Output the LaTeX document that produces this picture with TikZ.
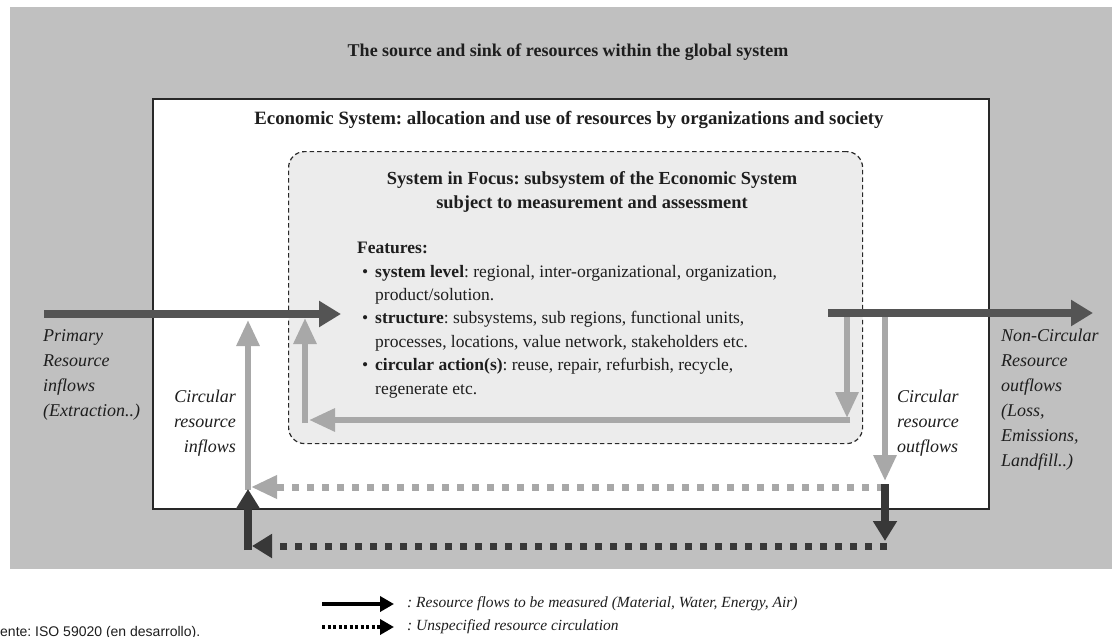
\documentclass[tikz,border=0pt]{standalone}
\usepackage{fontspec}
\setmainfont{Liberation Serif}
\setsansfont{Liberation Sans}
\usetikzlibrary{arrows.meta}
\frenchspacing
\definecolor{bggray}{RGB}{192,192,192}
\definecolor{focusfill}{RGB}{236,236,236}
\definecolor{darkflow}{RGB}{84,84,84}
\definecolor{lightflow}{RGB}{168,168,168}
\definecolor{loopdark}{RGB}{56,56,56}
\definecolor{edgecol}{RGB}{40,40,40}
\definecolor{txt}{RGB}{30,30,30}
\begin{document}
\frenchspacing
\begin{tikzpicture}[x=1pt,y=-1pt,
  flowdark/.style={draw=darkflow, line width=8pt, -{Triangle[length=22pt,width=25pt]}},
  flowlight/.style={draw=lightflow, line width=6pt, -{Triangle[length=26pt,width=22pt]}},
  flowloop/.style={draw=loopdark, line width=8pt, -{Triangle[length=20pt,width=23pt]}},
  dashlight/.style={flowlight, line width=7pt, dash pattern=on 7pt off 8pt},
  dashloop/.style={flowloop, line width=7pt, dash pattern=on 7pt off 8pt},
  ttl/.style={font=\fontsize{18}{24}\selectfont\bfseries, text=txt, inner sep=0, align=center},
  lbl/.style={font=\fontsize{18}{25}\selectfont\itshape, text=txt, inner sep=0},
  body/.style={font=\fontsize{17.5}{23.4}\selectfont, text=txt, inner sep=0, align=left},
  legtxt/.style={font=\fontsize{15.5}{18}\selectfont\itshape, text=txt, inner sep=0, anchor=west},
  legsolid/.style={draw=black, line width=4pt, -{Triangle[length=14pt,width=15pt]}},
  legdot/.style={legsolid, dash pattern=on 3pt off 2.5pt}
]
\useasboundingbox (0,0) rectangle (1119,637);
\fill[white] (0,0) rectangle (1119,637);

% boxes
\node[fill=bggray, minimum width=1102pt, minimum height=562pt, anchor=north west, inner sep=0] (global) at (10,7) {};
\node[fill=white, draw=edgecol, line width=1.5pt, minimum width=836pt, minimum height=410pt, anchor=north west, inner sep=0] (econ) at (152,98) {};
\node[fill=focusfill, draw=edgecol, line width=1.2pt, dash pattern=on 4.5pt off 3pt, rounded corners=16pt, minimum width=574pt, minimum height=292pt, anchor=north west, inner sep=0] (focus) at (288,151) {};

% titles
\node[ttl] (gtitle) at (568,52) {The source and sink of resources within the global system};
\node[ttl, font=\fontsize{18.8}{24}\selectfont\bfseries] (etitle) at (569,120) {Economic System: allocation and use of resources by organizations and society};
\node[ttl, anchor=north, font=\fontsize{18.4}{24}\selectfont\bfseries] (ftitle) at (592,171) {System in Focus: subsystem of the Economic System\\subject to measurement and assessment};

% features
\node[body, anchor=north west] (features) at (357,242) {\textbf{Features:}\\
\hspace*{5pt}\makebox[13pt][l]{\textbullet}\textbf{system level}: regional, inter-organizational, organization,\\
\hspace*{18pt}product/solution.\\
\hspace*{5pt}\makebox[13pt][l]{\textbullet}\textbf{structure}: subsystems, sub regions, functional units,\\
\hspace*{18pt}processes, locations, value network, stakeholders etc.\\
\hspace*{5pt}\makebox[13pt][l]{\textbullet}\textbf{circular action(s)}: reuse, repair, refurbish, recycle,\\
\hspace*{18pt}regenerate etc.};

% coordinates
\coordinate (pa) at (44,314);   \coordinate (pb) at (341,314);
\coordinate (oa) at (828,313);  \coordinate (ob) at (1093,313);
\coordinate (ir1) at (847,316); \coordinate (ir2) at (847,418);
\coordinate (ir3) at (850,420); \coordinate (il1) at (309,420);
\coordinate (il2) at (305,423); \coordinate (il3) at (305,318);
\coordinate (ci1) at (248,490); \coordinate (ci2) at (248,320);
\coordinate (co1) at (885,316); \coordinate (co2) at (885,481);
\coordinate (ld1) at (884,487); \coordinate (ld2) at (251,487);
\coordinate (dd1) at (885,484); \coordinate (dd2) at (885,541);
\coordinate (kd1) at (887,546); \coordinate (kd2) at (252,546);
\coordinate (du1) at (248,550); \coordinate (du2) at (248,489);

% light flows
\draw[flowlight] (ir1) -- (ir2);
\draw[flowlight] (ir3) -- (il1);
\draw[flowlight] (il2) -- (il3);
\draw[flowlight] (ci1) -- (ci2);
\draw[flowlight] (co1) -- (co2);
\draw[dashlight] (ld1) -- (ld2);
% dark flows
\draw[flowloop] (dd1) -- (dd2);
\draw[dashloop] (kd1) -- (kd2);
\draw[flowloop] (du1) -- (du2);
\draw[flowdark] (pa) -- (pb);
\draw[flowdark] (oa) -- (ob);

% labels
\node[lbl, anchor=north west, align=left] (primary) at (43,329) {Primary\\Resource\\inflows\\(Extraction..)};
\node[lbl, anchor=north east, align=right] (cin) at (236,390) {Circular\\resource\\inflows};
\node[lbl, anchor=north west, align=left] (cout) at (897,390) {Circular\\resource\\outflows};
\node[lbl, anchor=north west, align=left] (noncirc) at (1001,329) {Non-Circular\\Resource\\outflows\\(Loss,\\Emissions,\\Landfill..)};

% legend
\coordinate (l1a) at (322,604); \coordinate (l1b) at (394,604);
\coordinate (l2a) at (322,627); \coordinate (l2b) at (394,627);
\draw[legsolid] (l1a) -- (l1b);
\draw[legdot] (l2a) -- (l2b);
\node[legtxt] (leg1) at (407,604) {: Resource flows to be measured (Material, Water, Energy, Air)};
\node[legtxt] (leg2) at (407,627) {: Unspecified resource circulation};

% source note
\node[font=\sffamily\fontsize{14}{16}\selectfont, text=txt, inner sep=0, anchor=base west] (src) at (0,636) {ente: ISO 59020 (en desarrollo).};
\end{tikzpicture}
\end{document}
